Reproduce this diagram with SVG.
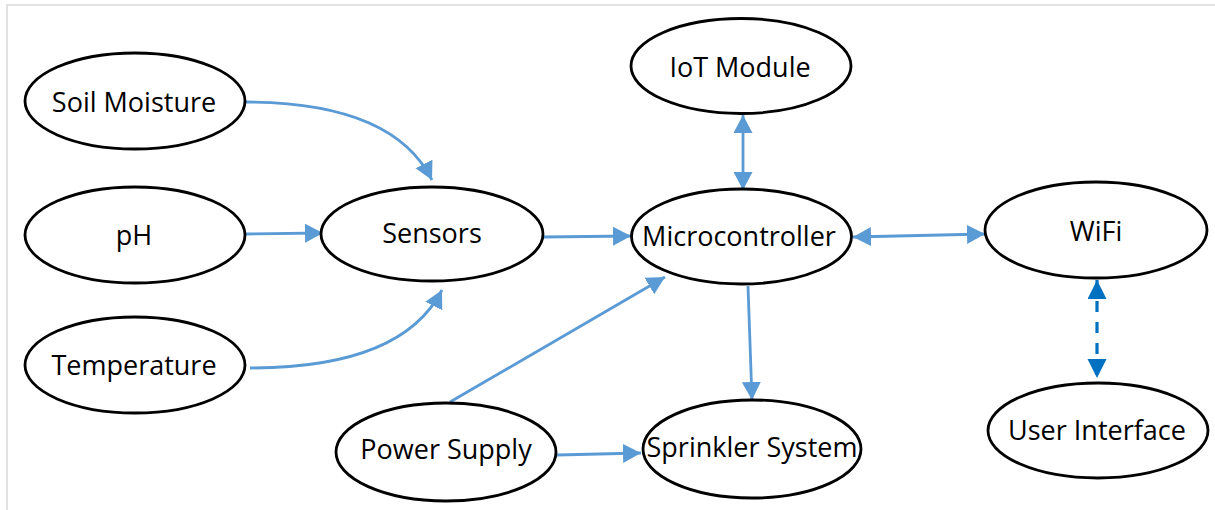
<svg xmlns="http://www.w3.org/2000/svg" width="1215" height="510" viewBox="0 0 1215 510">
<style>
.node ellipse{fill:#fff;stroke:#000;stroke-width:2.8}
.node text{font-family:"Open Sans","Noto Sans",sans-serif;font-size:27px;fill:#000;text-anchor:middle}
.c{fill:none;stroke:#5b9bd5;stroke-width:2.8}
.d{fill:none;stroke:#0070c0;stroke-width:3.2;stroke-dasharray:11 10}
</style>
<defs>
<marker id="a" markerUnits="userSpaceOnUse" markerWidth="19" markerHeight="20" refX="18" refY="9.5" orient="auto-start-reverse" viewBox="0 0 19 20">
<path d="M0,0 L18,9.5 L0,19 z" fill="#5b9bd5"/>
</marker>
<marker id="b" markerUnits="userSpaceOnUse" markerWidth="20" markerHeight="20" refX="19" refY="9.5" orient="auto-start-reverse" viewBox="0 0 20 20">
<path d="M0,0 L19,9.5 L0,19 z" fill="#0070c0"/>
</marker>
</defs>
<rect width="1215" height="510" fill="#fff"/>
<path d="M7,510 V5 H1215" fill="none" stroke="#d9d9d9" stroke-width="1.5"/>
<g id="connectors">
<path class="c" d="M245,102 Q393,102 432,180" marker-end="url(#a)"/>
<path class="c" d="M245,234 L323,233" marker-end="url(#a)"/>
<path class="c" d="M250,368 Q402,368 442,290" marker-end="url(#a)"/>
<path class="c" d="M544,237 L631,236" marker-end="url(#a)"/>
<path class="c" d="M450,402 L665,277" marker-end="url(#a)"/>
<path class="c" d="M743,115 L743,190" marker-start="url(#a)" marker-end="url(#a)"/>
<path class="c" d="M748,286 L752,400" marker-end="url(#a)"/>
<path class="c" d="M853,237 L985,234" marker-start="url(#a)" marker-end="url(#a)"/>
<path class="c" d="M557,455 L641,453" marker-end="url(#a)"/>
<path class="d" d="M1097,280 L1097,378" marker-start="url(#b)" marker-end="url(#b)"/>
</g>
<g id="soil" class="node"><ellipse cx="135" cy="101" rx="110" ry="48"/><text x="134" y="112">Soil Moisture</text></g>
<g id="ph" class="node"><ellipse cx="135" cy="235" rx="110" ry="48"/><text x="134" y="245">pH</text></g>
<g id="temperature" class="node"><ellipse cx="135" cy="365" rx="110" ry="48"/><text x="134" y="375">Temperature</text></g>
<g id="sensors" class="node"><ellipse cx="432" cy="234" rx="111" ry="47"/><text x="432" y="243">Sensors</text></g>
<g id="iot" class="node"><ellipse cx="741" cy="66" rx="110" ry="47.5"/><text x="740" y="77">IoT Module</text></g>
<g id="micro" class="node"><ellipse cx="741.5" cy="236.5" rx="110" ry="47.5"/><text x="739" y="246">Microcontroller</text></g>
<g id="wifi" class="node"><ellipse cx="1096" cy="230" rx="111" ry="48"/><text x="1096" y="241">WiFi</text></g>
<g id="ui" class="node"><ellipse cx="1098" cy="430.5" rx="110" ry="47.5"/><text x="1097" y="440">User Interface</text></g>
<g id="power" class="node"><ellipse cx="446" cy="452" rx="110" ry="49"/><text x="446" y="459">Power Supply</text></g>
<g id="sprinkler" class="node"><ellipse cx="752" cy="449" rx="109" ry="49"/><text x="752" y="457">Sprinkler System</text></g>
</svg>
